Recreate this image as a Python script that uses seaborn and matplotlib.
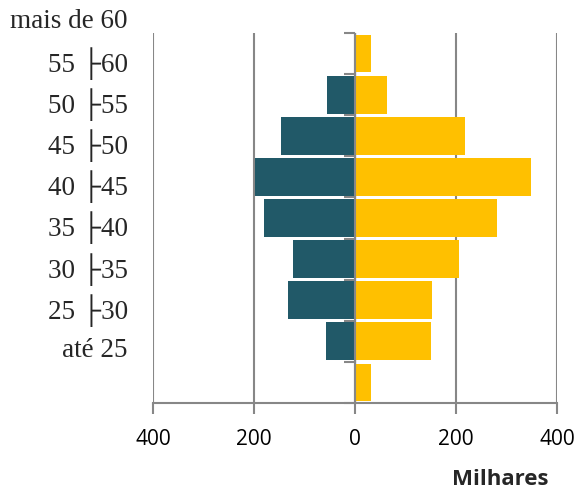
import numpy as np
import pandas as pd
import matplotlib
matplotlib.use("Agg")
import matplotlib.pyplot as plt
import matplotlib.transforms as mtransforms
import seaborn as sns

# faixas etárias (de cima para baixo)
faixas = ["mais de 60", "55 ├60", "50 ├55", "45 ├50", "40 ├45",
          "35 ├40", "30 ├35", "25 ├30", "até 25"]
# valores em milhares
homens = [0, 55, 146, 199, 181, 122, 132, 57, 0]
mulheres = [32, 63, 217, 349, 282, 205, 152, 150, 32]

cor_h = "#215968"
cor_m = "#FFC000"
cinza = "#878787"

df = pd.DataFrame({"faixa": faixas,
                   "homens": -np.array(homens),
                   "mulheres": mulheres})

sns.set_style("white")
fig = plt.figure(figsize=(5.76, 4.94), dpi=100)
ax = fig.add_axes([153/576, 1 - 403/494, 404/576, 370/494])

sns.barplot(data=df, x="homens", y="faixa", orient="h", color=cor_h,
            width=0.92, saturation=1, linewidth=0, ax=ax)
sns.barplot(data=df, x="mulheres", y="faixa", orient="h", color=cor_m,
            width=0.92, saturation=1, linewidth=0, ax=ax)

ax.set_xlim(-400, 400)
ax.set_ylim(len(faixas) - 0.5, -0.5)
ax.set_xticks([-400, -200, 0, 200, 400])
ax.set_xticklabels(["400", "200", "0", "200", "400"],
                   family="Open Sans", fontsize=15)
ax.xaxis.grid(True, color=cinza, linewidth=1.5)
ax.set_axisbelow(True)
for s in ["top", "right", "left"]:
    ax.spines[s].set_visible(False)
ax.spines["bottom"].set_color(cinza)
ax.spines["bottom"].set_linewidth(1.5)
ax.tick_params(axis="x", bottom=True, length=8, width=1.5, color=cinza,
               pad=11, labelcolor="black")
ax.tick_params(axis="y", left=False, length=0, pad=18)
ax.set_xlabel("")
ax.set_ylabel("")

# rótulos das faixas deslocados para cima, como no original
desloc = mtransforms.ScaledTranslation(0, 0.35, fig.dpi_scale_trans)
for lab in ax.get_yticklabels():
    lab.set_family(["Liberation Serif", "DejaVu Sans"])
    lab.set_fontsize(19.5)
    lab.set_transform(lab.get_transform() + desloc)

# eixo central com marcas nas divisões (apontando para a esquerda)
ax.axvline(0, color=cinza, linewidth=1.5, zorder=5)
eixo = ax.secondary_yaxis(0.5)
eixo.set_yticks(np.arange(len(faixas) + 1) - 0.5)
eixo.set_yticklabels([])
eixo.spines["left"].set_visible(False)
eixo.tick_params(axis="y", direction="in", length=8, width=1.5, color=cinza)

fig.text(548/576, 1 - 479/494, "Milhares", ha="right", va="center",
         family="Open Sans", fontweight="bold", fontsize=16)

fig.savefig("out.png", dpi=100)
